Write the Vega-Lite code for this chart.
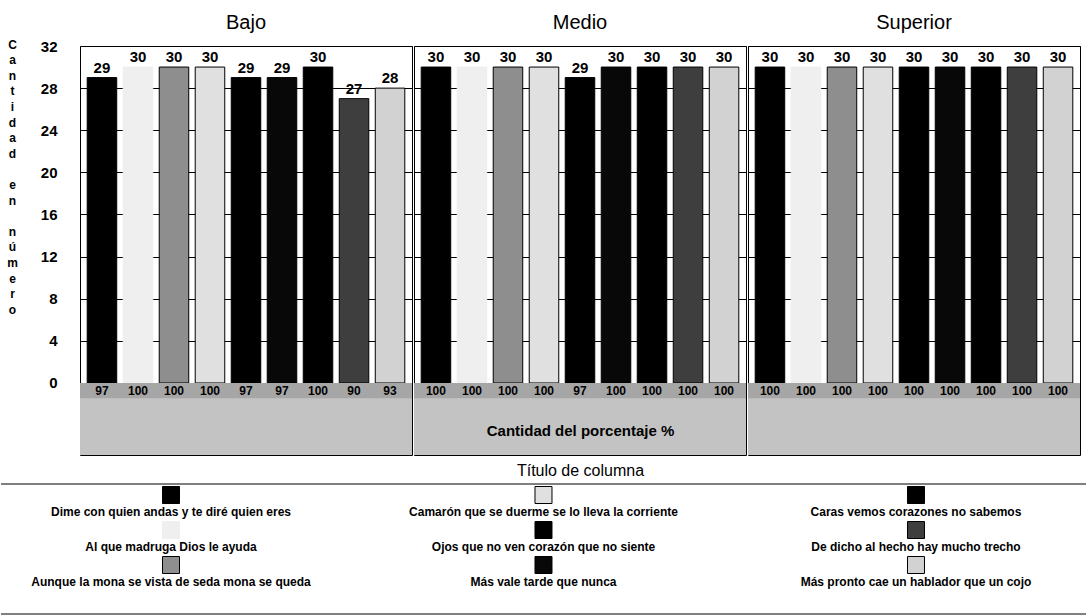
{
  "$schema": "https://vega.github.io/schema/vega-lite/v6.json",
  "padding": {"left": 0, "top": 12, "right": 0, "bottom": 0},
  "datasets": {
    "respuestas": [
      {"nivel": "Bajo", "proverbio": "Dime con quien andas y te diré quien eres", "cantidad": 29, "porcentaje": 97},
      {"nivel": "Bajo", "proverbio": "Al que madruga Dios le ayuda", "cantidad": 30, "porcentaje": 100},
      {"nivel": "Bajo", "proverbio": "Aunque la mona se vista de seda mona se queda", "cantidad": 30, "porcentaje": 100},
      {"nivel": "Bajo", "proverbio": "Camarón que se duerme se lo lleva la corriente", "cantidad": 30, "porcentaje": 100},
      {"nivel": "Bajo", "proverbio": "Ojos que no ven corazón que no siente", "cantidad": 29, "porcentaje": 97},
      {"nivel": "Bajo", "proverbio": "Más vale tarde que nunca", "cantidad": 29, "porcentaje": 97},
      {"nivel": "Bajo", "proverbio": "Caras vemos corazones no sabemos", "cantidad": 30, "porcentaje": 100},
      {"nivel": "Bajo", "proverbio": "De dicho al hecho hay mucho trecho", "cantidad": 27, "porcentaje": 90},
      {"nivel": "Bajo", "proverbio": "Más pronto cae un hablador que un cojo", "cantidad": 28, "porcentaje": 93},
      {"nivel": "Medio", "proverbio": "Dime con quien andas y te diré quien eres", "cantidad": 30, "porcentaje": 100},
      {"nivel": "Medio", "proverbio": "Al que madruga Dios le ayuda", "cantidad": 30, "porcentaje": 100},
      {"nivel": "Medio", "proverbio": "Aunque la mona se vista de seda mona se queda", "cantidad": 30, "porcentaje": 100},
      {"nivel": "Medio", "proverbio": "Camarón que se duerme se lo lleva la corriente", "cantidad": 30, "porcentaje": 100},
      {"nivel": "Medio", "proverbio": "Ojos que no ven corazón que no siente", "cantidad": 29, "porcentaje": 97},
      {"nivel": "Medio", "proverbio": "Más vale tarde que nunca", "cantidad": 30, "porcentaje": 100},
      {"nivel": "Medio", "proverbio": "Caras vemos corazones no sabemos", "cantidad": 30, "porcentaje": 100},
      {"nivel": "Medio", "proverbio": "De dicho al hecho hay mucho trecho", "cantidad": 30, "porcentaje": 100},
      {"nivel": "Medio", "proverbio": "Más pronto cae un hablador que un cojo", "cantidad": 30, "porcentaje": 100},
      {"nivel": "Superior", "proverbio": "Dime con quien andas y te diré quien eres", "cantidad": 30, "porcentaje": 100},
      {"nivel": "Superior", "proverbio": "Al que madruga Dios le ayuda", "cantidad": 30, "porcentaje": 100},
      {"nivel": "Superior", "proverbio": "Aunque la mona se vista de seda mona se queda", "cantidad": 30, "porcentaje": 100},
      {"nivel": "Superior", "proverbio": "Camarón que se duerme se lo lleva la corriente", "cantidad": 30, "porcentaje": 100},
      {"nivel": "Superior", "proverbio": "Ojos que no ven corazón que no siente", "cantidad": 30, "porcentaje": 100},
      {"nivel": "Superior", "proverbio": "Más vale tarde que nunca", "cantidad": 30, "porcentaje": 100},
      {"nivel": "Superior", "proverbio": "Caras vemos corazones no sabemos", "cantidad": 30, "porcentaje": 100},
      {"nivel": "Superior", "proverbio": "De dicho al hecho hay mucho trecho", "cantidad": 30, "porcentaje": 100},
      {"nivel": "Superior", "proverbio": "Más pronto cae un hablador que un cojo", "cantidad": 30, "porcentaje": 100}
    ]
  },
  "config": {
    "font": "Liberation Sans",
    "view": {"stroke": "black", "strokeWidth": 1},
    "title": {"fontSize": 20, "fontWeight": "normal", "color": "black", "offset": 13, "frame": "group"},
    "text": {"color": "black"}
  },
  "columns": 1,
  "align": "none",
  "spacing": 6,
  "concat": [
    {
      "spacing": 0,
      "hconcat": [
        {
          "title": {"text": "Bajo", "offset": 5},
          "width": 332,
          "height": 409,
          "data": {"name": "respuestas"},
          "transform": [{"filter": "datum.nivel === 'Bajo'"}],
          "layer": [
            {
              "mark": {"type": "bar", "strokeWidth": 1},
              "encoding": {
                "x": {"field": "proverbio", "type": "nominal", "sort": null, "scale": {"paddingInner": 0.18, "paddingOuter": 0.2}, "axis": null},
                "y": {
                  "field": "cantidad", "type": "quantitative",
                  "scale": {"domain": [-6.84, 32], "nice": false, "zero": false},
                  "axis": {
                    "values": [0, 4, 8, 12, 16, 20, 24, 28, 32],
                    "grid": true, "gridColor": "black", "gridOpacity": 1, "gridWidth": 1,
                    "domain": false, "ticks": false,
                    "labelFontSize": 15, "labelFontWeight": "bold", "labelColor": "black", "labelPadding": 23,
                    "title": ["C", "a", "n", "t", "i", "d", "a", "d", "\u200b", "e", "n", "\u200b", "n", "ú", "m", "e", "r", "o"],
                    "titleAngle": 0, "titleFontSize": 12, "titleFontWeight": "bold", "titleColor": "black",
                    "titleLineHeight": 15.6, "titleAlign": "center", "titleBaseline": "top",
                    "titleX": -68, "titleY": -7
                  }
                },
                "y2": {"datum": 0},
                "fill": {"field": "proverbio", "type": "nominal", "legend": null,
                  "scale": {
                    "domain": ["Dime con quien andas y te diré quien eres", "Al que madruga Dios le ayuda", "Aunque la mona se vista de seda mona se queda", "Camarón que se duerme se lo lleva la corriente", "Ojos que no ven corazón que no siente", "Más vale tarde que nunca", "Caras vemos corazones no sabemos", "De dicho al hecho hay mucho trecho", "Más pronto cae un hablador que un cojo"],
                    "range": ["#000000", "#efefef", "#8e8e8e", "#e0e0e0", "#000000", "#080808", "#000000", "#3e3e3e", "#d2d2d2"]
                  }},
                "stroke": {"field": "proverbio", "type": "nominal", "legend": null,
                  "scale": {
                    "domain": ["Dime con quien andas y te diré quien eres", "Al que madruga Dios le ayuda", "Aunque la mona se vista de seda mona se queda", "Camarón que se duerme se lo lleva la corriente", "Ojos que no ven corazón que no siente", "Más vale tarde que nunca", "Caras vemos corazones no sabemos", "De dicho al hecho hay mucho trecho", "Más pronto cae un hablador que un cojo"],
                    "range": ["#000000", "#efefef", "#000000", "#000000", "#000000", "#000000", "#000000", "#000000", "#000000"]
                  }}
              }
            },
            {
              "transform": [{"aggregate": [{"op": "count", "as": "n"}], "groupby": []}],
              "mark": {"type": "rect", "color": "#c3c3c3"},
              "encoding": {
                "y": {"datum": -6.84, "type": "quantitative"},
                "y2": {"datum": 0}
              }
            },
            {
              "transform": [{"aggregate": [{"op": "count", "as": "n"}], "groupby": []}],
              "mark": {"type": "rect", "color": "#a6a6a6"},
              "encoding": {
                "y": {"datum": -1.45, "type": "quantitative"},
                "y2": {"datum": 0}
              }
            },
            {
              "mark": {"type": "text", "baseline": "bottom", "dy": -2, "fontSize": 15, "fontWeight": "bold"},
              "encoding": {
                "x": {"field": "proverbio", "type": "nominal", "sort": null},
                "y": {"field": "cantidad", "type": "quantitative"},
                "text": {"field": "cantidad", "type": "quantitative"}
              }
            },
            {
              "mark": {"type": "text", "baseline": "middle", "fontSize": 12, "fontWeight": "bold"},
              "encoding": {
                "x": {"field": "proverbio", "type": "nominal", "sort": null},
                "y": {"datum": -0.72, "type": "quantitative"},
                "text": {"field": "porcentaje", "type": "quantitative"}
              }
            }
          ]
        },
        {
          "title": "Medio",
          "width": 332,
          "height": 409,
          "data": {"name": "respuestas"},
          "transform": [{"filter": "datum.nivel === 'Medio'"}],
          "layer": [
            {
              "mark": {"type": "bar", "strokeWidth": 1},
              "encoding": {
                "x": {"field": "proverbio", "type": "nominal", "sort": null, "scale": {"paddingInner": 0.18, "paddingOuter": 0.2},
                  "axis": {"title": "Cantidad del porcentaje %", "labels": false, "ticks": false, "domain": false, "grid": false,
                    "titleFontSize": 15, "titleFontWeight": "bold", "titleColor": "black", "titleBaseline": "middle", "titleY": -25, "zindex": 1}},
                "y": {
                  "field": "cantidad", "type": "quantitative",
                  "scale": {"domain": [-6.84, 32], "nice": false, "zero": false},
                  "axis": {"values": [0, 4, 8, 12, 16, 20, 24, 28, 32], "grid": true, "gridColor": "black", "gridOpacity": 1,
                    "labels": false, "ticks": false, "domain": false, "title": null}
                },
                "y2": {"datum": 0},
                "fill": {"field": "proverbio", "type": "nominal", "legend": null,
                  "scale": {
                    "domain": ["Dime con quien andas y te diré quien eres", "Al que madruga Dios le ayuda", "Aunque la mona se vista de seda mona se queda", "Camarón que se duerme se lo lleva la corriente", "Ojos que no ven corazón que no siente", "Más vale tarde que nunca", "Caras vemos corazones no sabemos", "De dicho al hecho hay mucho trecho", "Más pronto cae un hablador que un cojo"],
                    "range": ["#000000", "#efefef", "#8e8e8e", "#e0e0e0", "#000000", "#080808", "#000000", "#3e3e3e", "#d2d2d2"]
                  }},
                "stroke": {"field": "proverbio", "type": "nominal", "legend": null,
                  "scale": {
                    "domain": ["Dime con quien andas y te diré quien eres", "Al que madruga Dios le ayuda", "Aunque la mona se vista de seda mona se queda", "Camarón que se duerme se lo lleva la corriente", "Ojos que no ven corazón que no siente", "Más vale tarde que nunca", "Caras vemos corazones no sabemos", "De dicho al hecho hay mucho trecho", "Más pronto cae un hablador que un cojo"],
                    "range": ["#000000", "#efefef", "#000000", "#000000", "#000000", "#000000", "#000000", "#000000", "#000000"]
                  }}
              }
            },
            {
              "transform": [{"aggregate": [{"op": "count", "as": "n"}], "groupby": []}],
              "mark": {"type": "rect", "color": "#c3c3c3"},
              "encoding": {
                "y": {"datum": -6.84, "type": "quantitative"},
                "y2": {"datum": 0}
              }
            },
            {
              "transform": [{"aggregate": [{"op": "count", "as": "n"}], "groupby": []}],
              "mark": {"type": "rect", "color": "#a6a6a6"},
              "encoding": {
                "y": {"datum": -1.45, "type": "quantitative"},
                "y2": {"datum": 0}
              }
            },
            {
              "mark": {"type": "text", "baseline": "bottom", "dy": -2, "fontSize": 15, "fontWeight": "bold"},
              "encoding": {
                "x": {"field": "proverbio", "type": "nominal", "sort": null},
                "y": {"field": "cantidad", "type": "quantitative"},
                "text": {"field": "cantidad", "type": "quantitative"}
              }
            },
            {
              "mark": {"type": "text", "baseline": "middle", "fontSize": 12, "fontWeight": "bold"},
              "encoding": {
                "x": {"field": "proverbio", "type": "nominal", "sort": null},
                "y": {"datum": -0.72, "type": "quantitative"},
                "text": {"field": "porcentaje", "type": "quantitative"}
              }
            }
          ]
        },
        {
          "title": "Superior",
          "width": 332,
          "height": 409,
          "data": {"name": "respuestas"},
          "transform": [{"filter": "datum.nivel === 'Superior'"}],
          "layer": [
            {
              "mark": {"type": "bar", "strokeWidth": 1},
              "encoding": {
                "x": {"field": "proverbio", "type": "nominal", "sort": null, "scale": {"paddingInner": 0.18, "paddingOuter": 0.2}, "axis": null},
                "y": {
                  "field": "cantidad", "type": "quantitative",
                  "scale": {"domain": [-6.84, 32], "nice": false, "zero": false},
                  "axis": {"values": [0, 4, 8, 12, 16, 20, 24, 28, 32], "grid": true, "gridColor": "black", "gridOpacity": 1,
                    "labels": false, "ticks": false, "domain": false, "title": null}
                },
                "y2": {"datum": 0},
                "fill": {"field": "proverbio", "type": "nominal", "legend": null,
                  "scale": {
                    "domain": ["Dime con quien andas y te diré quien eres", "Al que madruga Dios le ayuda", "Aunque la mona se vista de seda mona se queda", "Camarón que se duerme se lo lleva la corriente", "Ojos que no ven corazón que no siente", "Más vale tarde que nunca", "Caras vemos corazones no sabemos", "De dicho al hecho hay mucho trecho", "Más pronto cae un hablador que un cojo"],
                    "range": ["#000000", "#efefef", "#8e8e8e", "#e0e0e0", "#000000", "#080808", "#000000", "#3e3e3e", "#d2d2d2"]
                  }},
                "stroke": {"field": "proverbio", "type": "nominal", "legend": null,
                  "scale": {
                    "domain": ["Dime con quien andas y te diré quien eres", "Al que madruga Dios le ayuda", "Aunque la mona se vista de seda mona se queda", "Camarón que se duerme se lo lleva la corriente", "Ojos que no ven corazón que no siente", "Más vale tarde que nunca", "Caras vemos corazones no sabemos", "De dicho al hecho hay mucho trecho", "Más pronto cae un hablador que un cojo"],
                    "range": ["#000000", "#efefef", "#000000", "#000000", "#000000", "#000000", "#000000", "#000000", "#000000"]
                  }}
              }
            },
            {
              "transform": [{"aggregate": [{"op": "count", "as": "n"}], "groupby": []}],
              "mark": {"type": "rect", "color": "#c3c3c3"},
              "encoding": {
                "y": {"datum": -6.84, "type": "quantitative"},
                "y2": {"datum": 0}
              }
            },
            {
              "transform": [{"aggregate": [{"op": "count", "as": "n"}], "groupby": []}],
              "mark": {"type": "rect", "color": "#a6a6a6"},
              "encoding": {
                "y": {"datum": -1.45, "type": "quantitative"},
                "y2": {"datum": 0}
              }
            },
            {
              "mark": {"type": "text", "baseline": "bottom", "dy": -2, "fontSize": 15, "fontWeight": "bold"},
              "encoding": {
                "x": {"field": "proverbio", "type": "nominal", "sort": null},
                "y": {"field": "cantidad", "type": "quantitative"},
                "text": {"field": "cantidad", "type": "quantitative"}
              }
            },
            {
              "mark": {"type": "text", "baseline": "middle", "fontSize": 12, "fontWeight": "bold"},
              "encoding": {
                "x": {"field": "proverbio", "type": "nominal", "sort": null},
                "y": {"datum": -0.72, "type": "quantitative"},
                "text": {"field": "porcentaje", "type": "quantitative"}
              }
            }
          ]
        }
      ]
    },
    {
      "title": {"text": "Título de columna", "fontSize": 16, "offset": 5},
      "width": 1001,
      "height": 130,
      "view": {"stroke": null},
      "data": {"name": "respuestas"},
      "transform": [
        {"filter": "datum.nivel === 'Bajo'"},
        {"window": [{"op": "row_number", "as": "n"}], "groupby": [], "sort": []},
        {"calculate": "floor((datum.n - 1) / 3)", "as": "columna"},
        {"calculate": "(datum.n - 1) % 3", "as": "fila"}
      ],
      "layer": [
        {
          "transform": [{"aggregate": [{"op": "count", "as": "k"}], "groupby": []}],
          "mark": {"type": "rule", "color": "black", "strokeWidth": 1},
          "encoding": {
            "x": {"datum": -0.4564, "type": "quantitative", "scale": {"domain": [-0.2443, 2.443], "nice": false, "zero": false}, "axis": null},
            "x2": {"datum": 2.4591},
            "y": {"datum": -0.543, "type": "quantitative", "scale": {"domain": [-0.543, 3.171], "reverse": true, "nice": false, "zero": false}, "axis": null}
          }
        },
        {
          "transform": [{"aggregate": [{"op": "count", "as": "k"}], "groupby": []}],
          "mark": {"type": "rule", "color": "black", "strokeWidth": 1},
          "encoding": {
            "x": {"datum": -0.4564, "type": "quantitative", "axis": null},
            "x2": {"datum": 2.4591},
            "y": {"datum": 3.171, "type": "quantitative", "axis": null}
          }
        },
        {
          "mark": {"type": "square", "size": 289, "filled": true, "opacity": 1, "strokeWidth": 1, "yOffset": -8},
          "encoding": {
            "x": {"field": "columna", "type": "quantitative", "axis": null},
            "y": {"field": "fila", "type": "quantitative", "axis": null},
            "fill": {"field": "proverbio", "type": "nominal", "legend": null,
              "scale": {
                "domain": ["Dime con quien andas y te diré quien eres", "Al que madruga Dios le ayuda", "Aunque la mona se vista de seda mona se queda", "Camarón que se duerme se lo lleva la corriente", "Ojos que no ven corazón que no siente", "Más vale tarde que nunca", "Caras vemos corazones no sabemos", "De dicho al hecho hay mucho trecho", "Más pronto cae un hablador que un cojo"],
                "range": ["#000000", "#efefef", "#8e8e8e", "#e0e0e0", "#000000", "#080808", "#000000", "#3e3e3e", "#d2d2d2"]
              }},
            "stroke": {"field": "proverbio", "type": "nominal", "legend": null,
              "scale": {
                "domain": ["Dime con quien andas y te diré quien eres", "Al que madruga Dios le ayuda", "Aunque la mona se vista de seda mona se queda", "Camarón que se duerme se lo lleva la corriente", "Ojos que no ven corazón que no siente", "Más vale tarde que nunca", "Caras vemos corazones no sabemos", "De dicho al hecho hay mucho trecho", "Más pronto cae un hablador que un cojo"],
                "range": ["#000000", "#efefef", "#000000", "#000000", "#000000", "#000000", "#000000", "#000000", "#000000"]
              }}
          }
        },
        {
          "mark": {"type": "text", "baseline": "middle", "fontSize": 12, "fontWeight": "bold", "yOffset": 9},
          "encoding": {
            "x": {"field": "columna", "type": "quantitative", "axis": null},
            "y": {"field": "fila", "type": "quantitative", "axis": null},
            "text": {"field": "proverbio", "type": "nominal"}
          }
        }
      ]
    }
  ]
}
